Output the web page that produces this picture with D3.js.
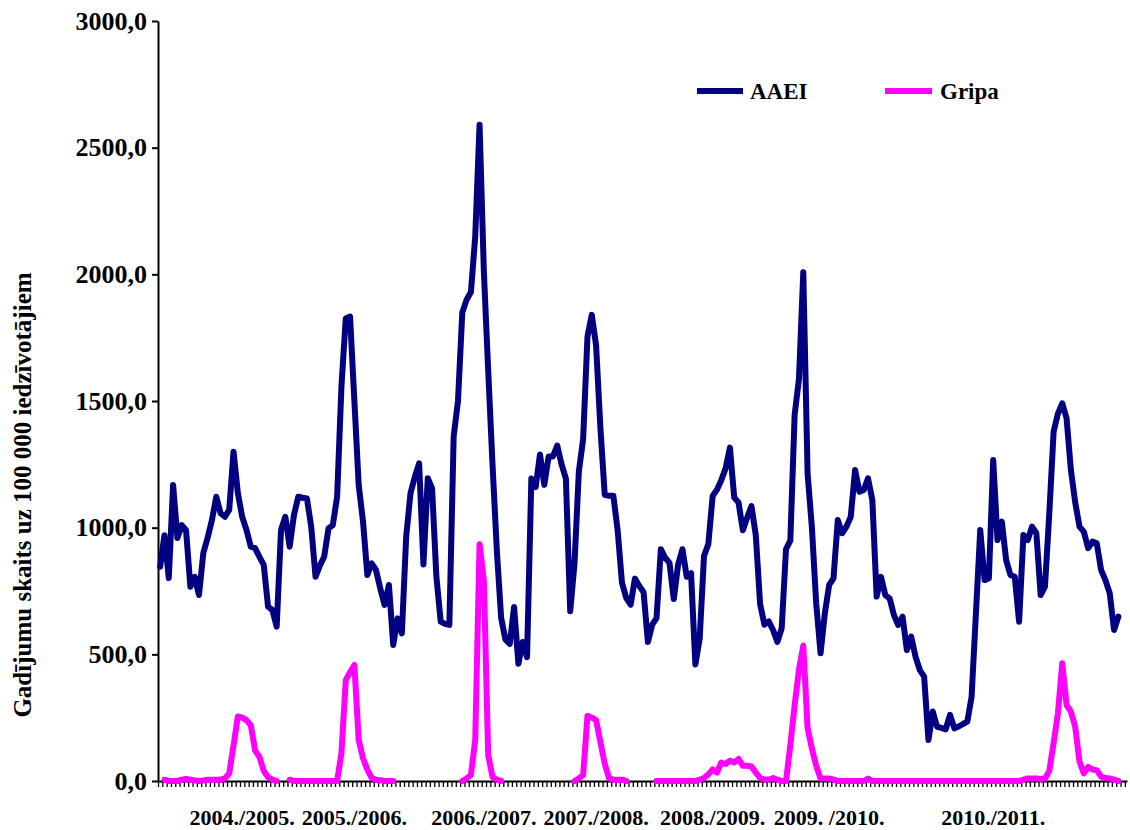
<!DOCTYPE html>
<html>
<head>
<meta charset="utf-8">
<script src="https://cdn.jsdelivr.net/npm/d3@7"></script>
<style>
  html, body { margin: 0; padding: 0; background: #fff; }
  svg { display: block; }
  text { font-family: "Liberation Serif", "Times New Roman", serif; font-weight: bold; fill: #000; }
</style>
</head>
<body>
<svg id="chart" width="1130" height="830"></svg>
<script>
// ---- data ----
const seriesNames = ["AAEI", "Gripa"];

const aaei = [
  846, 970, 801, 1168, 959, 1010, 990, 767, 806, 734,
  900, 960, 1030, 1122, 1057, 1043, 1070, 1300, 1137, 1043,
  991, 925, 919, 885, 853, 688, 675, 609, 991, 1043,
  925, 1050, 1122, 1118, 1115, 1004, 806, 850, 885, 997,
  1010, 1122, 1557, 1826, 1833, 1500, 1168, 1024, 813, 859,
  833, 760, 695, 774, 537, 642, 583, 964, 1136, 1200,
  1254, 855, 1195, 1155, 806, 629, 620, 616, 1359, 1500,
  1849, 1900, 1930, 2150, 2590, 2010, 1620, 1250, 911, 644,
  558, 541, 687, 463, 549, 489, 1194, 1160, 1289, 1169,
  1281, 1281, 1324, 1250, 1194, 670, 859, 1221, 1350, 1754,
  1840, 1719, 1393, 1130, 1126, 1126, 988, 782, 722, 696,
  799, 770, 745, 549, 617, 643, 915, 881, 861, 718,
  854, 915, 806, 820, 460, 562, 888, 935, 1125, 1150,
  1187, 1234, 1316, 1119, 1099, 990, 1040, 1085, 970, 698,
  617, 630, 596, 549, 603, 915, 949, 1445, 1587, 2008,
  1214, 1000, 700, 504, 662, 774, 800, 1030, 978, 1004,
  1043, 1228, 1142, 1149, 1195, 1109, 728, 806, 734, 721,
  655, 616, 649, 517, 570, 491, 438, 412, 162, 274,
  214, 210, 204, 261, 208, 215, 225, 234, 333, 662,
  991, 793, 800, 1267, 951, 1024, 872, 813, 806, 629,
  971, 951, 1004, 978, 734, 767, 1057, 1379, 1450, 1491,
  1432, 1228, 1100, 1004, 984, 919, 945, 938, 833, 793,
  741, 596, 649
];

const gripa = [
  null, 5, 0, 0, 0, 5, 8, 5, 2, 0,
  2, 5, 5, 5, 5, 10, 30, 140, 255, 250,
  240, 220, 120, 95, 40, 15, 5, 0, null, null,
  5, 0, 0, 0, 0, 0, 0, 0, 0, 0,
  0, 0, 110, 398, 430, 458, 162, 90, 45, 12,
  5, 3, 0, 0, 0, null, null, null, null, null,
  null, null, null, null, null, null, null, null, null, null,
  0, 10, 24, 162, 935, 790, 102, 16, 5, 0,
  null, null, null, null, null, null, null, null, null, null,
  null, null, null, null, null, null, 0, 10, 24, 257,
  250, 240, 154, 68, 10, 5, 5, 5, 0, null,
  null, null, null, null, null, 0, 0, 0, 0, 0,
  0, 0, 0, 0, 0, 5, 12, 26, 46, 33,
  73, 67, 80, 73, 87, 60, 60, 57, 33, 12,
  6, 6, 12, 5, 0, 0, 141, 300, 440, 535,
  209, 128, 60, 10, 10, 10, 5, 0, 0, 0,
  0, 0, 0, 0, 10, 0, 0, 0, 0, 0,
  0, 0, 0, 0, 0, 0, 0, 0, 0, 0,
  0, 0, 0, 0, 0, 0, 0, 0, 0, 0,
  0, 0, 0, 0, 0, 0, 0, 0, 0, 0,
  5, 10, 10, 10, 8, 10, 40, 150, 268, 465,
  300, 274, 214, 76, 30, 56, 45, 43, 17, 12,
  10, 5, 0
];

// total weekly categories on the axis
const categoryCount = 225;
// season labels and the week category they are written under
const seasonLabels = ["2004./2005.", "2005./2006.", "2006./2007.", "2007./2008.", "2008./2009.", "2009. /2010.", "2010./2011."];
const seasonCategory = [19, 45, 75, 101, 128, 155, 193];

const yTicks = [0, 500, 1000, 1500, 2000, 2500, 3000];
const yTickLabels = ["0,0", "500,0", "1000,0", "1500,0", "2000,0", "2500,0", "3000,0"];
const yTitle = "Gadījumu skaits uz 100 000 iedzīvotājiem";

// ---- layout ----
const svg = d3.select("#chart");
const plotLeft = 158, plotRight = 1127, plotTop = 21, plotBottom = 781;
const colors = { AAEI: "#000080", Gripa: "#FF00FF" };

const x = d3.scaleLinear().domain([-0.5, categoryCount - 1]).range([plotLeft, plotRight]);
const y = d3.scaleLinear().domain([0, 3000]).range([plotBottom, plotTop]);

// y axis
const yAxis = d3.axisLeft(y)
  .tickValues(yTicks)
  .tickFormat((d, i) => yTickLabels[i])
  .tickSize(6)
  .tickSizeOuter(0)
  .tickPadding(5);
const gy = svg.append("g").attr("transform", `translate(${plotLeft},0)`).call(yAxis);
gy.select(".domain").attr("stroke", "#000").attr("stroke-width", 2);
gy.selectAll(".tick line").attr("stroke", "#000").attr("stroke-width", 2);
gy.selectAll(".tick text")
  .attr("font-size", 26)
  .attr("font-family", "'Liberation Serif', 'Times New Roman', serif")
  .attr("font-weight", "bold")
  .attr("fill", "#000");

// x axis (one tick at each week boundary)
const boundaries = d3.range(-0.5, categoryCount - 1, 1);
const xAxis = d3.axisBottom(x)
  .tickValues(boundaries)
  .tickFormat("")
  .tickSize(6)
  .tickSizeOuter(0);
const gx = svg.append("g").attr("transform", `translate(0,${plotBottom})`).call(xAxis);
gx.select(".domain").attr("stroke", "#000").attr("stroke-width", 2);
gx.selectAll(".tick line").attr("stroke", "#000").attr("stroke-width", 1.3);

// season labels
svg.append("g").selectAll("text")
  .data(seasonLabels)
  .join("text")
  .attr("x", (d, i) => x(seasonCategory[i]))
  .attr("y", 825)
  .attr("text-anchor", "middle")
  .attr("font-size", 22)
  .text(d => d);

// y title
svg.append("text")
  .attr("transform", "translate(31,495) rotate(-90)")
  .attr("text-anchor", "middle")
  .attr("font-size", 25)
  .text(yTitle);

// lines
const line = d3.line()
  .defined(d => d != null)
  .x((d, i) => x(i))
  .y(d => y(d));

svg.append("path")
  .datum(aaei)
  .attr("fill", "none")
  .attr("stroke", colors.AAEI)
  .attr("stroke-width", 6)
  .attr("stroke-linejoin", "round")
  .attr("stroke-linecap", "round")
  .attr("d", line);

svg.append("path")
  .datum(gripa)
  .attr("fill", "none")
  .attr("stroke", colors.Gripa)
  .attr("stroke-width", 6)
  .attr("stroke-linejoin", "round")
  .attr("stroke-linecap", "round")
  .attr("d", line);

// legend
const legendItems = [
  { name: seriesNames[0], x0: 697, x1: 743, tx: 750 },
  { name: seriesNames[1], x0: 885, x1: 932, tx: 940 }
];
const lg = svg.append("g");
legendItems.forEach(it => {
  lg.append("line")
    .attr("x1", it.x0).attr("x2", it.x1)
    .attr("y1", 91).attr("y2", 91)
    .attr("stroke", colors[it.name])
    .attr("stroke-width", 6);
  lg.append("text")
    .attr("x", it.tx).attr("y", 99)
    .attr("font-size", 23)
    .text(it.name);
});
</script>
</body>
</html>
